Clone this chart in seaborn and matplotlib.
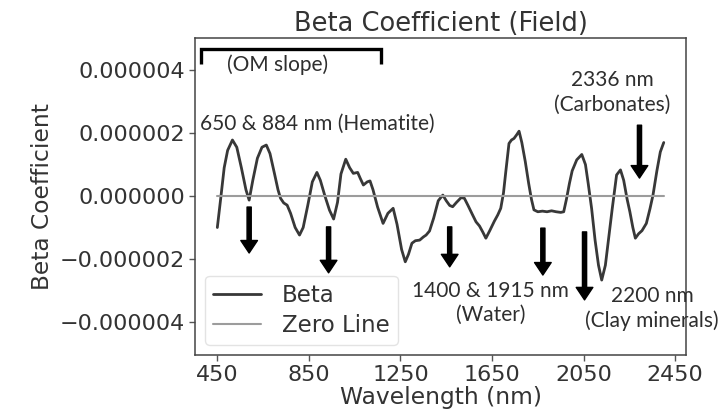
import matplotlib
matplotlib.use("Agg")
import matplotlib.pyplot as plt
import seaborn as sns
import pandas as pd
from matplotlib.ticker import FuncFormatter

# ---- data (wavelength in nm, beta in units of 1e-6) ----
wavelength = [450, 466, 480, 495, 516, 535, 555, 575, 589, 605, 625, 645, 664, 680,
              700, 715, 726, 740, 755, 770, 790, 809, 825, 845, 865, 885, 900, 920,
              940, 958, 975, 990, 1011, 1028, 1044, 1063, 1075, 1088, 1105, 1117,
              1130, 1150, 1174, 1195, 1218, 1235, 1255, 1271, 1285, 1300, 1315,
              1334, 1350, 1362, 1377, 1395, 1415, 1435, 1450, 1465, 1478, 1495,
              1515, 1529, 1545, 1565, 1580, 1595, 1610, 1623, 1640, 1660, 1675,
              1688, 1700, 1710, 1724, 1735, 1746, 1758, 1768, 1780, 1795, 1810,
              1822, 1833, 1850, 1870, 1890, 1910, 1930, 1950, 1963, 1975, 1988,
              2000, 2020, 2042, 2058, 2070, 2085, 2100, 2115, 2129, 2145, 2160,
              2175, 2194, 2211, 2225, 2240, 2252, 2265, 2276, 2290, 2305, 2324,
              2340, 2353, 2370, 2385, 2400]
beta_e6 = [-1.0, 0.0, 0.9, 1.45, 1.78, 1.55, 0.9, 0.2, -0.13, 0.5, 1.2, 1.55, 1.62, 1.35,
           0.7, 0.2, -0.07, -0.22, -0.29, -0.55, -1.0, -1.24, -1.0, -0.3, 0.45, 0.75, 0.5, 0.0,
           -0.45, -0.73, -0.2, 0.7, 1.17, 0.9, 0.72, 0.75, 0.55, 0.35, 0.45, 0.48,
           0.2, -0.35, -0.87, -0.55, -0.39, -0.9, -1.7, -2.09, -1.85, -1.5, -1.42,
           -1.40, -1.3, -1.24, -1.11, -0.7, -0.15, 0.03, -0.15, -0.3, -0.34, -0.2,
           -0.05, -0.07, -0.3, -0.6, -0.82, -0.95, -1.15, -1.34, -1.1, -0.8, -0.6,
           -0.39, 0.1, 0.77, 1.67, 1.78, 1.83, 1.95, 2.06, 1.7, 1.1, 0.4,
           -0.1, -0.44, -0.5, -0.48, -0.5, -0.47, -0.5, -0.52, -0.5, -0.1, 0.4,
           0.8, 1.15, 1.32, 1.0, 0.4, -0.4, -1.4, -2.2, -2.67, -2.2, -1.3,
           -0.4, 0.67, 0.83, 0.5, -0.1, -0.5, -1.0, -1.34, -1.2, -1.1, -0.87,
           -0.4, 0.03, 0.8, 1.4, 1.7]
x_ticks = [450, 850, 1250, 1650, 2050, 2450]
y_ticks = [-4e-6, -2e-6, 0.0, 2e-6, 4e-6]

df = pd.DataFrame({"Wavelength": wavelength,
                   "Beta": [b * 1e-6 for b in beta_e6]})
df["Zero"] = 0.0

sns.set_theme(style="ticks")
plt.rcParams["font.family"] = ["DejaVu Sans"]

fig = plt.figure(figsize=(7.26, 4.2), dpi=100)
ax = fig.add_axes([0.2686, 0.1548, 0.6764, 0.7547])

sns.lineplot(data=df, x="Wavelength", y="Beta", ax=ax, color="#383838",
             linewidth=2.0, label="Beta")
sns.lineplot(data=df, x="Wavelength", y="Zero", ax=ax, color="#9c9c9c",
             linewidth=1.5, label="Zero Line")

ax.set_xlim(352.5, 2497.5)
ax.set_ylim(-5.05e-6, 5.02e-6)
ax.set_xticks(x_ticks)
ax.set_yticks(y_ticks)


def fmt(v, pos):
    s = f"{v:.6f}"
    if s.startswith("-0.000000"):
        s = "0.000000"
    return s.replace("-", "\u2212")


ax.yaxis.set_major_formatter(FuncFormatter(fmt))
ax.tick_params(axis="both", labelsize=16, length=4, width=1, color="#555555",
               labelcolor="#333333", pad=3)
for sp in ax.spines.values():
    sp.set_color("#444444")
    sp.set_linewidth(1.1)

ax.set_title("Beta Coefficient (Field)", fontsize=18.5, color="#333333", pad=5)
ax.set_xlabel("Wavelength (nm)", fontsize=16.8, color="#333333", labelpad=1)
ax.set_ylabel("Beta Coefficient", fontsize=16.8, color="#333333", labelpad=4)

leg = ax.legend(loc="lower left", fontsize=16.5, frameon=True, borderaxespad=0.45,
                handlelength=2.1, handletextpad=0.9, labelspacing=0.3,
                borderpad=0.35)
leg.get_frame().set_edgecolor("#dddddd")
for t in leg.get_texts():
    t.set_color("#333333")

# ---- annotations ----
afont = dict(family=["Lato", "DejaVu Sans"], fontsize=15, color="#2e2e2e")
ax.text(715, 4.16e-6, "(OM slope)", ha="center", va="center", **afont)
ax.text(888, 2.29e-6, "650 & 884 nm (Hematite)", ha="center", va="center", **afont)
ax.text(2175, 3.29e-6, "2336 nm\n(Carbonates)", ha="center", va="center",
        linespacing=1.25, **afont)
ax.text(1645, -3.40e-6, "1400 & 1915 nm\n(Water)", ha="center", va="center",
        linespacing=1.25, **afont)
ax.text(2350, -3.57e-6, "2200 nm\n(Clay minerals)", ha="center", va="center",
        linespacing=1.25, clip_on=False, **afont)

# bracket for OM slope
ax.plot([379, 379, 1163, 1163], [4.19e-6, 4.67e-6, 4.67e-6, 4.19e-6],
        color="black", linewidth=2.4, solid_capstyle="butt", solid_joinstyle="miter")

arrows = [(589, -0.35e-6, -1.81e-6), (936, -0.98e-6, -2.44e-6),
          (1465, -0.98e-6, -2.25e-6), (1872, -1.02e-6, -2.51e-6),
          (2054, -1.14e-6, -3.30e-6), (2294, 2.25e-6, 0.57e-6)]
for xa, y0, y1 in arrows:
    ax.annotate("", xy=(xa, y1), xytext=(xa, y0),
                arrowprops=dict(arrowstyle="simple,head_length=0.45,head_width=0.6,tail_width=0.15",
                                fc="black", ec="black", mutation_scale=20,
                                shrinkA=0, shrinkB=0))

fig.savefig("out.png", dpi=100)
